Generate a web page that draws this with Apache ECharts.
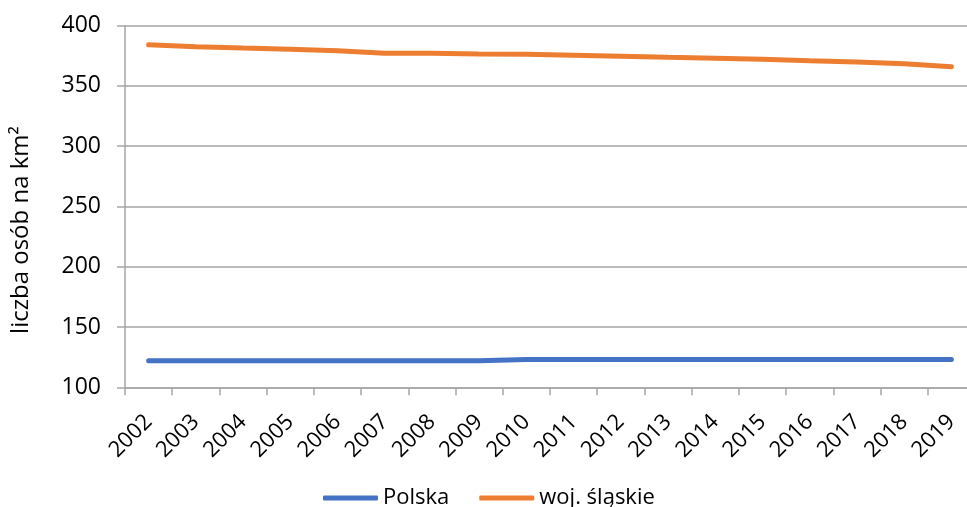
<!DOCTYPE html>
<html>
<head>
<meta charset="utf-8">
<script src="https://cdn.jsdelivr.net/npm/echarts@6/dist/echarts.min.js"></script>
<style>html,body{margin:0;padding:0;background:#fff;}#c{width:967px;height:507px;}</style>
</head>
<body>
<div id="c"></div>
<script>
const years = ['2002','2003','2004','2005','2006','2007','2008','2009','2010','2011','2012','2013','2014','2015','2016','2017','2018','2019'];
const polska = [122,122,122,122,122,122,122,122,123,123,123,123,123,123,123,123,123,123];
const slaskie = [384,382.4,381.3,380.3,379.1,377,377,376.4,376.1,375.3,374.5,373.6,372.8,372,370.8,369.7,368.3,365.8];
const seriesNames = ['Polska','woj. śląskie'];
const yTitle = 'liczba osób na km²';

const FONT = 'Open Sans';
const chart = echarts.init(document.getElementById('c'), null, {renderer:'canvas'});
chart.setOption({
  animation: false,
  color: ['#4472C4','#ED7D31'],
  grid: {left:125, width:850, top:25.5, height:361.8, containLabel:false, outerBoundsMode:'none'},
  legend: {
    left: 318, top: 482,
    icon: 'roundRect', itemWidth: 55, itemHeight: 5, itemGap: 30,
    textStyle: {fontFamily: FONT, fontSize: 22, color: '#000'},
    data: seriesNames
  },
  graphic: [{
    type: 'text', x: 21, y: 230, rotation: Math.PI/2,
    style: {text: yTitle, font: '24px "Open Sans"', fill: '#000', align: 'center', verticalAlign: 'middle'}
  }],
  xAxis: {
    type: 'category', data: years, boundaryGap: true,
    axisLine: {show:true, lineStyle:{color:'#a6a6a6', width:1.5}},
    axisTick: {show:true, length:8, interval:0, lineStyle:{color:'#a6a6a6', width:1.5}},
    axisLabel: {interval:0, rotate:45, margin:31, fontFamily: FONT, fontSize:22, color:'#000'},
    splitLine: {show:false}
  },
  yAxis: {
    type: 'value', min:100, max:400, interval:50,
    axisLine: {show:true, lineStyle:{color:'#a6a6a6', width:1.5}},
    axisTick: {show:true, length:8, lineStyle:{color:'#a6a6a6', width:1.5}},
    axisLabel: {margin:24, fontFamily: FONT, fontSize:23, color:'#000'},
    splitLine: {show:true, lineStyle:{color:'#a6a6a6', width:1.5}}
  },
  series: [
    {name: seriesNames[0], type:'line', data: polska, showSymbol:false, lineStyle:{width:5, cap:'round'}},
    {name: seriesNames[1], type:'line', data: slaskie, showSymbol:false, lineStyle:{width:5, cap:'round'}}
  ]
});
</script>
</body>
</html>
